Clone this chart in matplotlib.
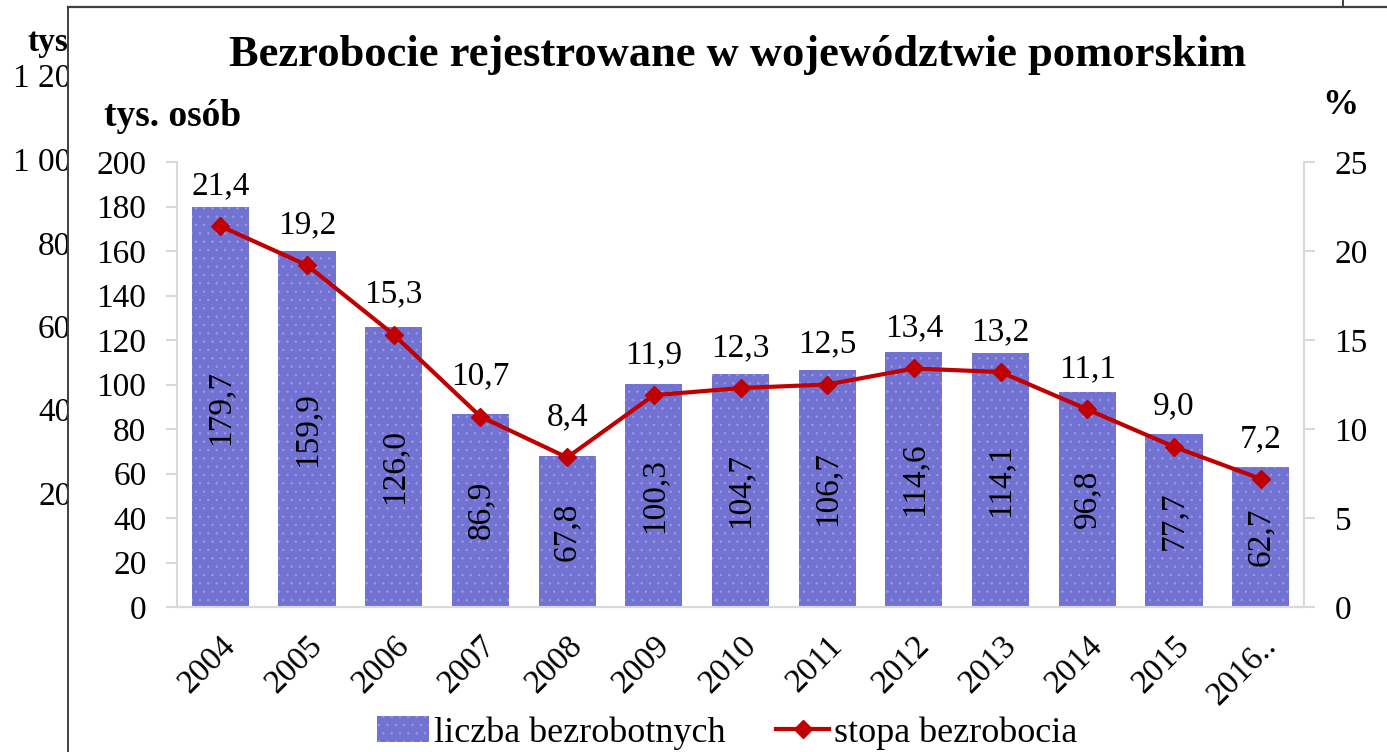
import matplotlib
matplotlib.use('Agg')
import matplotlib.pyplot as plt
from matplotlib.lines import Line2D
import numpy as np

plt.rcParams['font.family'] = ['Liberation Serif', 'DejaVu Serif']
plt.rcParams['hatch.linewidth'] = 0.5

# dane
lata = ['2004', '2005', '2006', '2007', '2008', '2009', '2010', '2011',
        '2012', '2013', '2014', '2015', '2016..']
liczba = [179.7, 159.9, 126.0, 86.9, 67.8, 100.3, 104.7, 106.7, 114.6, 114.1, 96.8, 77.7, 62.7]
stopa = [21.4, 19.2, 15.3, 10.7, 8.4, 11.9, 12.3, 12.5, 13.4, 13.2, 11.1, 9.0, 7.2]
tlo_etykiety = ['tys', '1 200', '1 000', '800', '600', '400', '200']

W, H = 1387, 752
fig = plt.figure(figsize=(W / 100, H / 100), dpi=100)

def fx(px):
    return px / W

def fy(py):
    return 1 - py / H

# ramki z tla (fragment innego wykresu)
fig.add_artist(Line2D([fx(68), 1], [fy(7), fy(7)], color='#404040', lw=1.6))
fig.add_artist(Line2D([fx(68), fx(68)], [fy(7), 0], color='#404040', lw=1.4))
fig.add_artist(Line2D([fx(1343), fx(1343)], [1, fy(7)], color='#404040', lw=1.4))

strip = fig.add_axes([0, 0, fx(68), fy(8)])
strip.set_axis_off()
strip.set_xlim(0, 68)
strip.set_ylim(H, 8)
tlo_x = [28, 13, 13, 38, 38, 38, 38]
tlo_y = [42, 79, 163, 247, 330, 413, 497]
for t, x, y in zip(tlo_etykiety, tlo_x, tlo_y):
    strip.text(x, y, t, fontsize=24, ha='left', va='center', clip_on=True,
               fontweight='bold' if t == 'tys' else 'normal')

ax = fig.add_axes([fx(177), fy(607), fx(1304) - fx(177), fy(162) - fy(607)])
x = np.arange(len(lata))
bars = ax.bar(x, liczba, width=0.66, color='#7272d2', edgecolor='#9a9ae4',
              hatch='..', linewidth=0, label='liczba bezrobotnych', zorder=2)
ax.set_xlim(-0.5, len(lata) - 0.5)
ax.set_ylim(0, 200)
ax.set_yticks(range(0, 201, 20))
for b, v in zip(bars, liczba):
    ax.text(b.get_x() + b.get_width() / 2, v / 2, f'{v:.1f}'.replace('.', ','),
            rotation=90, ha='center', va='center', fontsize=24, zorder=3)

ax2 = ax.twinx()
ax2.plot(x, stopa, color='#c00000', lw=3, marker='D', markersize=9,
         label='stopa bezrobocia', zorder=4)
ax2.set_ylim(0, 25)
ax2.set_yticks(range(0, 26, 5))
for xi, v in zip(x, stopa):
    ax2.annotate(f'{v:.1f}'.replace('.', ','), (xi, v), xytext=(0, 29),
                 textcoords='offset points', ha='center', va='center', fontsize=24)

for a in (ax, ax2):
    for s in a.spines.values():
        s.set_color('#d9d9d9')
        s.set_linewidth(1.5)
    a.spines['top'].set_visible(False)
    a.tick_params(axis='y', length=8, width=1.5, color='#d9d9d9', pad=14, labelsize=24)
ax.spines['right'].set_visible(False)
ax2.spines['left'].set_visible(False)

ax.set_xticks(x)
ax.set_xticklabels(lata, rotation=45, ha='right', va='top', rotation_mode='anchor', fontsize=24)
ax.tick_params(axis='x', length=0, pad=17)

fig.text(0.532, fy(55), 'Bezrobocie rejestrowane w województwie pomorskim',
         ha='center', va='center', fontsize=32, fontweight='bold')
fig.text(fx(104), fy(117), 'tys. osób', ha='left', va='center', fontsize=27, fontweight='bold')
fig.text(fx(1340), fy(105), '%', ha='center', va='center', fontsize=26, fontweight='bold')

h1, l1 = ax.get_legend_handles_labels()
h2, l2 = ax2.get_legend_handles_labels()
fig.legend(h1 + h2, l1 + l2, loc='center', bbox_to_anchor=(fx(727), fy(733)), ncol=2,
           frameon=False, fontsize=26, handlelength=1.45, handletextpad=0.15,
           columnspacing=1.4, borderaxespad=0, borderpad=0)

fig.savefig('out.png', dpi=100)
